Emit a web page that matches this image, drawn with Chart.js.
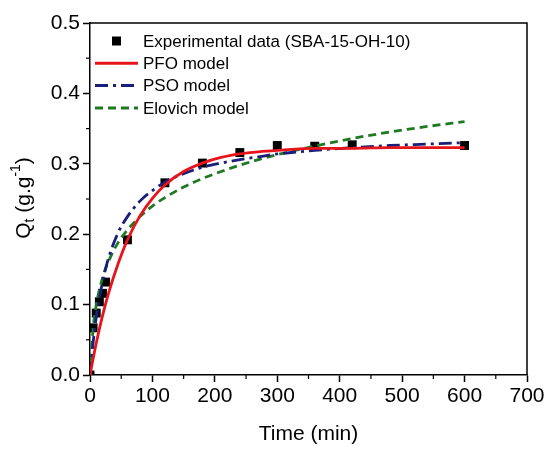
<!DOCTYPE html>
<html>
<head>
<meta charset="utf-8">
<script src="https://cdn.jsdelivr.net/npm/chart.js@4"></script>
<style>
  html, body { margin: 0; padding: 0; background: #fff; }
  #wrap { width: 550px; height: 451px; }
</style>
</head>
<body>
<div id="wrap"><canvas id="myChart" width="550" height="451"></canvas></div>
<script>
// experimental points
const expTime = [0, 5, 10, 15, 20, 25, 60, 120, 180, 240, 300, 360, 420, 600];
const expQt = [0, 0.067, 0.088, 0.104, 0.116, 0.132, 0.192, 0.273, 0.301, 0.316, 0.326, 0.325, 0.327, 0.326];

// model curves
const modelTime = [0, 5, 10, 20, 30, 45, 60, 80, 100, 120, 150, 180, 210, 240, 270, 300, 360, 420, 480, 540, 600];
const pfoQt = [0, 0.023, 0.045, 0.084, 0.117, 0.158, 0.192, 0.226, 0.251, 0.270, 0.289, 0.301, 0.309, 0.314, 0.317, 0.319, 0.322, 0.322, 0.323, 0.323, 0.323];
const psoQt = [0, 0.046, 0.082, 0.132, 0.167, 0.202, 0.225, 0.247, 0.262, 0.274, 0.286, 0.295, 0.301, 0.306, 0.310, 0.314, 0.319, 0.323, 0.326, 0.328, 0.330];
const elovichQt = [0, 0.066, 0.099, 0.138, 0.162, 0.188, 0.206, 0.225, 0.240, 0.252, 0.267, 0.279, 0.289, 0.298, 0.306, 0.313, 0.325, 0.336, 0.345, 0.353, 0.360];

const xTicks = [0, 100, 200, 300, 400, 500, 600, 700];
const yTicks = [0.0, 0.1, 0.2, 0.3, 0.4, 0.5];

const FONT = '"Liberation Sans", Arial, sans-serif';

function pts(xs, ys) {
  return xs.map((x, i) => ({ x: x, y: ys[i] }));
}

const legendItems = [
  { text: 'Experimental data (SBA-15-OH-10)', type: 'marker' },
  { text: 'PFO model', color: '#e8141c', dash: [] },
  { text: 'PSO model', color: '#1a1f7a', dash: [13, 5, 3, 5] },
  { text: 'Elovich model', color: '#1e7a22', dash: [8, 5] }
];

// frame, minor ticks, y title and legend
const extras = {
  id: 'extras',
  afterDraw(chart) {
    const ctx = chart.ctx;
    const a = chart.chartArea;
    const xs = chart.scales.x, ys = chart.scales.y;
    ctx.save();
    ctx.strokeStyle = '#000';
    ctx.lineWidth = 1.5;
    ctx.beginPath();
    ctx.moveTo(a.left, a.top); ctx.lineTo(a.right, a.top); ctx.lineTo(a.right, a.bottom);
    ctx.stroke();

    // minor ticks halfway between labelled ticks
    ctx.lineWidth = 1.2;
    for (let i = 0; i < xTicks.length - 1; i++) {
      const px = xs.getPixelForValue((xTicks[i] + xTicks[i + 1]) / 2);
      ctx.beginPath(); ctx.moveTo(px, a.bottom); ctx.lineTo(px, a.bottom + 4); ctx.stroke();
    }
    for (let i = 0; i < yTicks.length - 1; i++) {
      const py = ys.getPixelForValue((yTicks[i] + yTicks[i + 1]) / 2);
      ctx.beginPath(); ctx.moveTo(a.left, py); ctx.lineTo(a.left - 4, py); ctx.stroke();
    }

    // y axis title with subscript and superscript
    ctx.translate(24, 198);
    ctx.rotate(-Math.PI / 2);
    ctx.fillStyle = '#000';
    ctx.textBaseline = 'middle';
    const big = '21px ' + FONT, small = '14px ' + FONT;
    const parts = [
      { t: 'Q', f: big, dy: 0 },
      { t: 't', f: small, dy: 6 },
      { t: ' (g.g', f: big, dy: 0 },
      { t: '-1', f: small, dy: -8 },
      { t: ')', f: big, dy: 0 }
    ];
    let w = 0;
    parts.forEach(p => { ctx.font = p.f; p.w = ctx.measureText(p.t).width; w += p.w; });
    let cx = -w / 2;
    ctx.textAlign = 'left';
    parts.forEach(p => { ctx.font = p.f; ctx.fillText(p.t, cx, p.dy); cx += p.w; });
    ctx.restore();

    // legend
    ctx.save();
    ctx.font = '17px ' + FONT;
    ctx.textBaseline = 'middle';
    ctx.textAlign = 'left';
    legendItems.forEach((it, i) => {
      const y = 41 + i * 22.3;
      if (it.type === 'marker') {
        ctx.fillStyle = '#000';
        ctx.fillRect(112, y - 4.5, 9, 9);
      } else {
        ctx.strokeStyle = it.color;
        ctx.lineWidth = 3;
        ctx.setLineDash(it.dash);
        ctx.beginPath(); ctx.moveTo(95, y); ctx.lineTo(138, y); ctx.stroke();
        ctx.setLineDash([]);
      }
      ctx.fillStyle = '#000';
      ctx.fillText(it.text, 143, y + 1);
    });
    ctx.restore();
  }
};

const ctx = document.getElementById('myChart');
new Chart(ctx, {
  type: 'line',
  data: {
    datasets: [
      {
        label: 'Experimental data (SBA-15-OH-10)',
        data: pts(expTime, expQt),
        showLine: false,
        pointStyle: 'rect',
        pointRadius: 6.3,
        backgroundColor: '#000',
        borderColor: '#000',
        borderWidth: 0,
        order: 4
      },
      {
        label: 'PFO model',
        data: pts(modelTime, pfoQt),
        borderColor: '#e8141c',
        borderWidth: 2.8,
        pointRadius: 0,
        tension: 0.4,
        cubicInterpolationMode: 'monotone',
        order: 1
      },
      {
        label: 'PSO model',
        data: pts(modelTime, psoQt),
        borderColor: '#1a1f7a',
        borderWidth: 2.8,
        borderDash: [13, 5, 3, 5],
        pointRadius: 0,
        cubicInterpolationMode: 'monotone',
        order: 2
      },
      {
        label: 'Elovich model',
        data: pts(modelTime, elovichQt),
        borderColor: '#1e7a22',
        borderWidth: 2.8,
        borderDash: [8, 5],
        pointRadius: 0,
        cubicInterpolationMode: 'monotone',
        order: 3
      }
    ]
  },
  options: {
    responsive: false,
    animation: false,
    layout: { padding: { left: 0, top: 23, right: 23, bottom: 0 } },
    plugins: { legend: { display: false }, tooltip: { enabled: false } },
    scales: {
      x: {
        type: 'linear',
        min: 0, max: 700,
        afterFit(s) { s.height = 76; },
        afterBuildTicks(s) { s.ticks = xTicks.map(v => ({ value: v })); },
        ticks: { color: '#000', font: { family: FONT, size: 21 }, padding: 2, maxRotation: 0 },
        grid: { drawOnChartArea: false, tickLength: 7, tickWidth: 1.5, tickColor: '#000' },
        border: { color: '#000', width: 1.5 },
        title: { display: true, text: 'Time (min)', color: '#000', font: { family: FONT, size: 21 }, padding: { top: 6 } }
      },
      y: {
        type: 'linear',
        min: 0, max: 0.5,
        afterFit(s) { s.width = 90; },
        afterBuildTicks(s) { s.ticks = yTicks.map(v => ({ value: v })); },
        ticks: { color: '#000', font: { family: FONT, size: 21 }, padding: 3, callback: v => v.toFixed(1) },
        grid: { drawOnChartArea: false, tickLength: 7, tickWidth: 1.5, tickColor: '#000' },
        border: { color: '#000', width: 1.5 }
      }
    }
  },
  plugins: [extras]
});
</script>
</body>
</html>
